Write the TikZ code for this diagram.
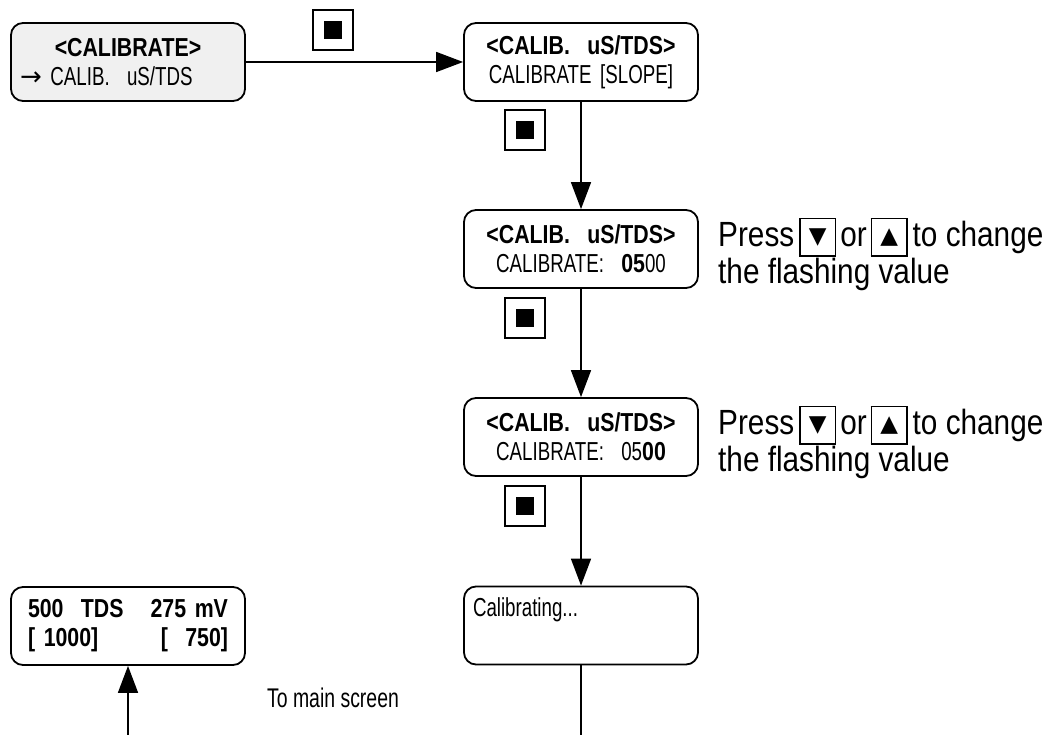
\documentclass[tikz,border=0pt]{standalone}
\usepackage{fontspec}
\setmainfont{Liberation Sans}
\newfontfamily\lcdfont{Liberation Sans}[FakeStretch=0.72,BoldFeatures={FakeStretch=0.82}]
\newfontfamily\hintfont{Liberation Sans}[FakeStretch=0.85]
\newfontfamily\symfont{DejaVu Sans}
\usetikzlibrary{positioning,arrows.meta,calc}
\tikzset{
lcdbox/.style={
  draw,
  line width=1.8pt,
  rounded corners=12pt,
  minimum width=234pt,
  minimum height=78pt,
  text width=216pt,
  inner xsep=9pt,
  align=center,
  font=\lcdfont\fontsize{26}{29}\selectfont
},
keybtn/.style={
  draw,
  line width=2.2pt,
  minimum size=40pt,
  inner sep=0pt
},
conn/.style={
  line width=1.6pt,
  -{Triangle[length=27pt,width=20pt]}
},
hint/.style={
  anchor=west,
  align=left,
  inner sep=0pt,
  font=\hintfont\fontsize{35}{31}\selectfont
}
}
\newcommand{\hintkey}[1]{\raisebox{-9pt}{\setlength{\fboxsep}{0pt}\setlength{\fboxrule}{1.5pt}\fbox{\parbox[b][36pt][c]{34pt}{\centering\symfont\fontsize{23}{23}\selectfont #1}}}}

\begin{document}
\begin{tikzpicture}[x=1pt,y=-1pt]
  \useasboundingbox (0,0) rectangle (1059,735);

  % display screens
  \node[lcdbox,fill=black!6] (calib) at (128,62)
    {\textbf{<CALIBRATE>}\\\makebox[\linewidth][l]{{\symfont →} CALIB.\ \ uS/TDS}};
  \node[lcdbox] (slope) at (581,62)
    {\textbf{<CALIB.\ \ uS/TDS>}\\CALIBRATE [SLOPE]};
  \node[lcdbox] (valA) at (581,249)
    {\textbf{<CALIB.\ \ uS/TDS>}\\CALIBRATE:\ \ \textbf{05}00};
  \node[lcdbox] (valB) at (581,437)
    {\textbf{<CALIB.\ \ uS/TDS>}\\CALIBRATE:\ \ 05\textbf{00}};
  \node[lcdbox] (busy) at (581,625.5)
    {\makebox[\linewidth][l]{Calibrating...}\\\strut};
  \node[lcdbox] (mainscr) at (128,626)
    {\makebox[\linewidth]{\hspace{8pt}\textbf{500\ \ TDS}\hfill\textbf{275 mV}\hspace{8pt}}\\
     \makebox[\linewidth]{\hspace{8pt}\textbf{[ 1000]}\hfill\textbf{[\ \ 750]}\hspace{8pt}}};

  % enter keys
  \node[keybtn] (key1) at (333,30) {\rule{18pt}{18pt}};
  \node[keybtn] (key2) at (525,130) {\rule{18pt}{18pt}};
  \node[keybtn] (key3) at (525,318) {\rule{18pt}{18pt}};
  \node[keybtn] (key4) at (525,506) {\rule{18pt}{18pt}};

  \coordinate (busyend) at (581,735);
  \coordinate (mainend) at (128,735);

  \draw[conn] (calib) -- (slope);
  \draw[conn] (slope) -- (valA);
  \draw[conn] (valA) -- (valB);
  \draw[conn] (valB) -- (busy);
  \draw[line width=1.6pt] (busy) -- (busyend);
  \draw[conn] (mainend) -- (mainscr);

  \node[hint] (hintA) at (718,254) {Press\hspace{5pt}\hintkey{▼}\hspace{4pt}or\hspace{4pt}\hintkey{▲}\hspace{5pt}to change\\the flashing value};
  \node[hint] (hintB) at (718,442) {Press\hspace{5pt}\hintkey{▼}\hspace{4pt}or\hspace{4pt}\hintkey{▲}\hspace{5pt}to change\\the flashing value};

  \node[font=\lcdfont\fontsize{27}{27}\selectfont] (tomain) at (333,698) {To main screen};
\end{tikzpicture}
\end{document}
